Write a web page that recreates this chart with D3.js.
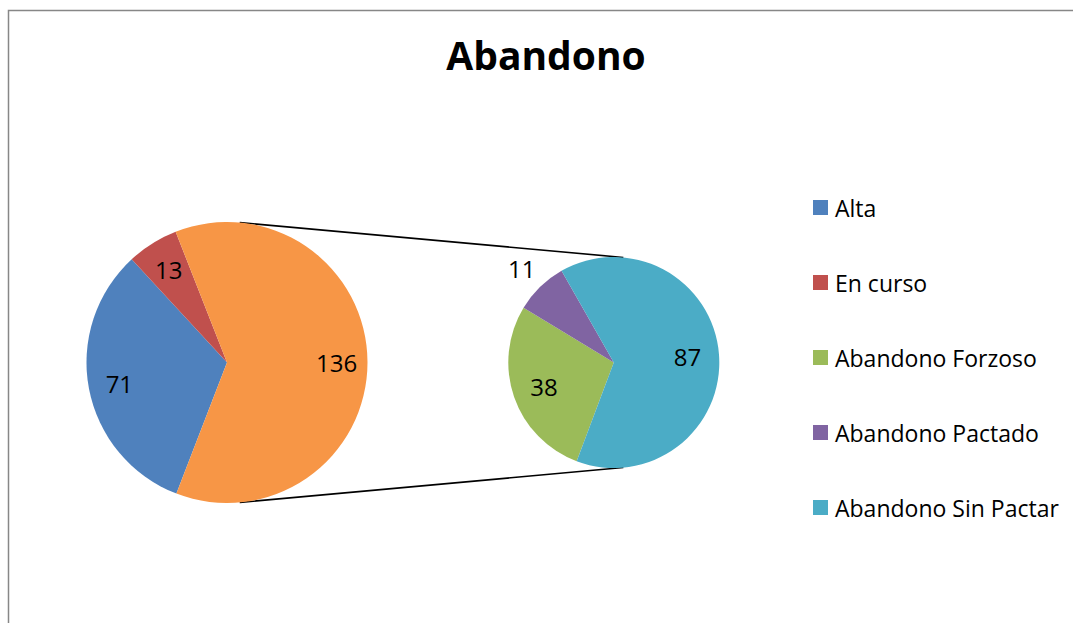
<!DOCTYPE html>
<html>
<head>
<meta charset="utf-8">
<script src="https://cdn.jsdelivr.net/npm/d3@7"></script>
<style>
  body { margin: 0; background: #fff; }
  text { font-family: "Open Sans", Lato, sans-serif; }
</style>
</head>
<body>
<div id="chart"></div>
<script>
const mainLabels = ["Alta", "En curso", "Abandono"];
const mainValues = [71, 13, 136];
const subLabels = ["Abandono Forzoso", "Abandono Pactado", "Abandono Sin Pactar"];
const subValues = [38, 11, 87];
const legendLabels = ["Alta", "En curso", "Abandono Forzoso", "Abandono Pactado", "Abandono Sin Pactar"];
const colors = {
  "Alta": "#4f81bd",
  "En curso": "#c0504d",
  "Abandono": "#f79646",
  "Abandono Forzoso": "#9bbb59",
  "Abandono Pactado": "#8064a2",
  "Abandono Sin Pactar": "#4bacc6"
};
const outsideLabels = ["Abandono Pactado"];

const width = 1073, height = 623;
const svg = d3.select("#chart").append("svg")
  .attr("width", width)
  .attr("height", height);

// chart area border (cut off on the right and bottom)
svg.append("rect")
  .attr("x", 8.5).attr("y", 10.5)
  .attr("width", width + 20).attr("height", height + 20)
  .attr("fill", "none")
  .attr("stroke", "#878787")
  .attr("stroke-width", 1.5);

svg.append("text")
  .text("Abandono")
  .attr("x", 546).attr("y", 70)
  .attr("text-anchor", "middle")
  .style("font-weight", "bold")
  .style("font-size", "39px");

const deg = Math.PI / 180;
const main = { cx: 227, cy: 362.5, r: 140.5 };
const sub = { cx: 613.8, cy: 362.5, r: 105.5 };

// connector lines: outer tangents between the two pies
const tilt = Math.asin((main.r - sub.r) / (sub.cx - main.cx));
[-1, 1].forEach(s => {
  svg.append("line")
    .attr("x1", main.cx + main.r * Math.sin(tilt))
    .attr("y1", main.cy + s * main.r * Math.cos(tilt))
    .attr("x2", sub.cx + sub.r * Math.sin(tilt))
    .attr("y2", sub.cy + s * sub.r * Math.cos(tilt))
    .attr("stroke", "#000")
    .attr("stroke-width", 1.6);
});

const drawPie = (labels, values, p, start, labelR) => {
  const data = labels.map((l, i) => ({ label: l, value: values[i] }));
  const pie = d3.pie().sort(null).value(d => d.value)
    .startAngle(start * deg).endAngle(start * deg + 2 * Math.PI);
  const arc = d3.arc().innerRadius(0).outerRadius(p.r);
  const g = svg.append("g").attr("transform", `translate(${p.cx},${p.cy})`);
  const arcs = pie(data);
  g.selectAll("path").data(arcs).enter().append("path")
    .attr("d", arc)
    .attr("fill", d => colors[d.data.label]);
  g.selectAll("text").data(arcs).enter().append("text")
    .text(d => d.data.value)
    .attr("transform", d => {
      const r = outsideLabels.includes(d.data.label) ? p.r * 1.25 : p.r * labelR;
      const c = d3.arc().innerRadius(r).outerRadius(r).centroid(d);
      return `translate(${c[0]},${c[1]})`;
    })
    .attr("text-anchor", "middle")
    .attr("dominant-baseline", "central")
    .style("font-size", "24px");
};

drawPie(mainLabels, mainValues, main, 201.1, 0.78);
drawPie(subLabels, subValues, sub, 200.6, 0.7);

const legend = svg.append("g").attr("transform", "translate(813,200)");
const item = legend.selectAll("g").data(legendLabels).enter().append("g")
  .attr("transform", (d, i) => `translate(0,${i * 75})`);
item.append("rect")
  .attr("width", 15).attr("height", 15)
  .attr("fill", d => colors[d]);
item.append("text")
  .text(d => d)
  .attr("x", 22).attr("y", 8)
  .attr("dominant-baseline", "central")
  .style("font-size", "23px");
</script>
</body>
</html>
